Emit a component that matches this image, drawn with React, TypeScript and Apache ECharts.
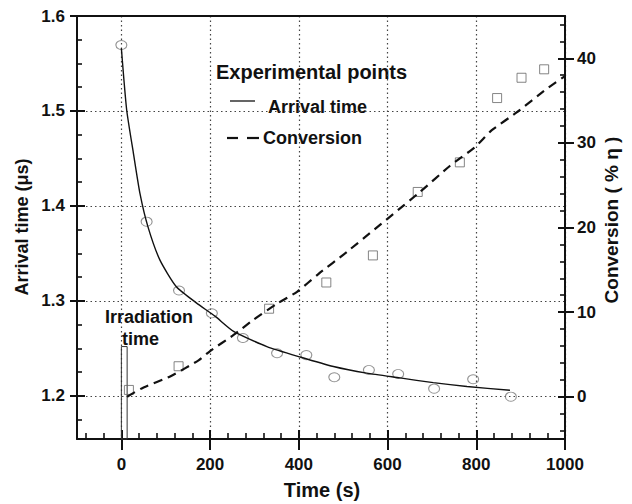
import { useEffect, useRef } from "react";
import * as echarts from "echarts";

// ---- data ----
const arrivalTime = [0, 57, 130, 204, 274, 351, 417, 480, 558, 624, 705, 793, 878];
const arrivalValue = [1.5695, 1.3835, 1.311, 1.287, 1.261, 1.245, 1.243, 1.2197, 1.2274, 1.2232, 1.2077, 1.2176, 1.1993];

const conversionTime = [17, 129, 333, 462, 567, 668, 763, 847, 902, 953];
const conversionValue = [0.8, 3.6, 10.4, 13.5, 16.7, 24.2, 27.7, 35.3, 37.7, 38.7];

const arrivalFitTime = [0, 12, 27, 42, 60, 87, 124, 169, 211, 253, 328, 403, 478, 553, 628, 703, 779, 876];
const arrivalFitValue = [1.566, 1.501, 1.456, 1.413, 1.378, 1.343, 1.315, 1.298, 1.284, 1.268, 1.252, 1.241, 1.231, 1.224, 1.219, 1.214, 1.21, 1.206];

const conversionFitTime = [13, 50, 110, 174, 200, 253, 298, 351, 396, 444, 508, 673, 741, 797, 835, 891, 959, 1000];
const conversionFitValue = [0, 1.1, 2.4, 4.3, 5.4, 7.3, 9.1, 11.0, 12.4, 14.5, 17.1, 24.2, 27.3, 29.5, 31.5, 33.6, 36.4, 37.9];

const irradiationSpan = [0, 13];
const irradiationTop = 1.252;

const timeRange = [-100, 1000];
const arrivalRange = [1.1547, 1.6];
const conversionRange = [-5, 45];

const timeMajorTicks = [0, 200, 400, 600, 800, 1000];
const arrivalMajorTicks = [1.2, 1.3, 1.4, 1.5, 1.6];
const conversionMajorTicks = [0, 10, 20, 30, 40];

const timeMinorTicks = [-80, -40, 40, 80, 120, 160, 240, 280, 320, 360, 440, 480, 520, 560, 640, 680, 720, 760, 840, 880, 920, 960];
const arrivalMinorTicks = [1.175, 1.225, 1.25, 1.275, 1.325, 1.35, 1.375, 1.425, 1.45, 1.475, 1.525, 1.55, 1.575];
const conversionMinorTicks = [-4, -2, 2, 4, 6, 8, 12, 14, 16, 18, 22, 24, 26, 28, 32, 34, 36, 38, 42, 44];

const FONT = '"Liberation Sans", Arial, Helvetica, sans-serif';
const INK = "#111";

const zip = (a: number[], b: number[]) => a.map((v, i) => [v, b[i]]);

export default function App() {
  const ref = useRef<HTMLDivElement>(null);

  useEffect(() => {
    const chart = echarts.init(ref.current!, null, { renderer: "svg" });
    const axisLineStyle = { color: INK, width: 2 };
    const tickStyle = { color: INK, width: 2 };
    const minorStyle = { color: INK, width: 1.6 };
    const gridStyle = { color: "#444", width: 1.2, type: [1.5, 3] as any };
    const labelStyle = {
      color: INK,
      fontSize: 17,
      fontWeight: "bold" as const,
      fontFamily: FONT,
      formatter: (v: number) => String(v),
    };

    const tickOnlyX = (values: number[], inside: boolean, length: number, style: any) => ({
      type: "value",
      position: "bottom",
      min: timeRange[0],
      max: timeRange[1],
      axisLine: { show: false, onZero: false },
      axisTick: { show: true, inside, length, lineStyle: style, customValues: values },
      axisLabel: { show: false },
      splitLine: { show: false },
    });
    const tickOnlyY = (pos: string, range: number[], values: number[], inside: boolean, length: number, style: any) => ({
      type: "value",
      position: pos,
      min: range[0],
      max: range[1],
      axisLine: { show: false, onZero: false },
      axisTick: { show: true, inside, length, lineStyle: style, customValues: values },
      axisLabel: { show: false },
      splitLine: { show: false },
    });

    const option: any = {
      animation: false,
      backgroundColor: "#fff",
      grid: { left: 77, right: 67, top: 16, bottom: 65, containLabel: false },
      xAxis: [
        {
          type: "value",
          position: "bottom",
          min: timeRange[0],
          max: timeRange[1],
          minInterval: 200,
          maxInterval: 200,
          axisLine: { show: true, onZero: false, lineStyle: axisLineStyle },
          axisTick: { show: true, inside: true, length: 9, lineStyle: tickStyle, customValues: timeMajorTicks },
          axisLabel: { ...labelStyle, margin: 17, customValues: timeMajorTicks },
          splitLine: { show: true, lineStyle: gridStyle },
        },
        tickOnlyX(timeMajorTicks, false, 11, tickStyle),
        tickOnlyX(timeMinorTicks, true, 6, minorStyle),
        {
          type: "value",
          position: "top",
          min: timeRange[0],
          max: timeRange[1],
          axisLine: { show: true, onZero: false, lineStyle: axisLineStyle },
          axisTick: { show: false },
          axisLabel: { show: false },
          splitLine: { show: false },
        },
      ],
      yAxis: [
        {
          type: "value",
          position: "left",
          min: arrivalRange[0],
          max: arrivalRange[1],
          minInterval: 0.1,
          maxInterval: 0.1,
          axisLine: { show: true, onZero: false, lineStyle: axisLineStyle },
          axisTick: { show: true, inside: true, length: 8, lineStyle: tickStyle, customValues: arrivalMajorTicks },
          axisLabel: { ...labelStyle, margin: 12, customValues: arrivalMajorTicks },
          splitLine: { show: true, lineStyle: gridStyle },
        },
        {
          type: "value",
          position: "right",
          min: conversionRange[0],
          max: conversionRange[1],
          minInterval: 10,
          maxInterval: 10,
          axisLine: { show: true, onZero: false, lineStyle: axisLineStyle },
          axisTick: { show: true, inside: true, length: 7, lineStyle: tickStyle, customValues: conversionMajorTicks },
          axisLabel: { ...labelStyle, margin: 12, customValues: conversionMajorTicks },
          splitLine: { show: false },
        },
        tickOnlyY("left", arrivalRange, arrivalMajorTicks, false, 7, tickStyle),
        tickOnlyY("left", arrivalRange, arrivalMinorTicks, true, 5, minorStyle),
        tickOnlyY("right", conversionRange, conversionMajorTicks, false, 9, tickStyle),
        tickOnlyY("right", conversionRange, conversionMinorTicks, true, 5, minorStyle),
      ],
      series: [
        {
          name: "Arrival time",
          type: "line",
          xAxisIndex: 0,
          yAxisIndex: 0,
          data: zip(arrivalFitTime, arrivalFitValue),
          showSymbol: false,
          smooth: 0.2,
          lineStyle: { color: INK, width: 1.4 },
          z: 4,
          markArea: {
            silent: true,
            itemStyle: { color: "rgba(0,0,0,0)", borderColor: "#333", borderWidth: 1 },
            data: [[
              { coord: [irradiationSpan[0], arrivalRange[0]] },
              { coord: [irradiationSpan[1], irradiationTop] },
            ]],
          },
        },
        {
          name: "Conversion",
          type: "line",
          xAxisIndex: 0,
          yAxisIndex: 1,
          data: zip(conversionFitTime, conversionFitValue),
          showSymbol: false,
          smooth: 0.2,
          lineStyle: { color: INK, width: 2.2, type: [9, 6] },
          z: 4,
        },
        {
          name: "Arrival points",
          type: "scatter",
          xAxisIndex: 0,
          yAxisIndex: 0,
          data: zip(arrivalTime, arrivalValue),
          symbol: "circle",
          symbolSize: [11, 9],
          itemStyle: { color: "rgba(0,0,0,0)", borderColor: "#777", borderWidth: 1 },
          z: 3,
        },
        {
          name: "Conversion points",
          type: "scatter",
          xAxisIndex: 0,
          yAxisIndex: 1,
          data: zip(conversionTime, conversionValue),
          symbol: "rect",
          symbolSize: 9,
          itemStyle: { color: "rgba(0,0,0,0)", borderColor: "#666", borderWidth: 1 },
          z: 3,
        },
      ],
      graphic: [
        { type: "text", x: 216, y: 72, style: { text: "Experimental points", font: `bold 20px ${FONT}`, fill: INK, align: "left", verticalAlign: "middle" } },
        { type: "line", shape: { x1: 230, y1: 101, x2: 255, y2: 101 }, style: { stroke: INK, lineWidth: 1.3 } },
        { type: "text", x: 268, y: 107, style: { text: "Arrival time", font: `bold 18px ${FONT}`, fill: INK, align: "left", verticalAlign: "middle" } },
        { type: "line", shape: { x1: 227, y1: 138, x2: 238, y2: 138 }, style: { stroke: INK, lineWidth: 2.2 } },
        { type: "line", shape: { x1: 247, y1: 138, x2: 259, y2: 138 }, style: { stroke: INK, lineWidth: 2.2 } },
        { type: "text", x: 263, y: 138, style: { text: "Conversion", font: `bold 18px ${FONT}`, fill: INK, align: "left", verticalAlign: "middle" } },
        { type: "text", x: 105, y: 317, style: { text: "Irradiation", font: `bold 18px ${FONT}`, fill: INK, align: "left", verticalAlign: "middle" } },
        { type: "text", x: 122, y: 339, style: { text: "time", font: `bold 18px ${FONT}`, fill: INK, align: "left", verticalAlign: "middle" } },
        { type: "text", x: 322, y: 490, style: { text: "Time (s)", font: `bold 20px ${FONT}`, fill: INK, align: "center", verticalAlign: "middle" } },
        { type: "text", x: 22, y: 227, rotation: Math.PI / 2, style: { text: "Arrival time (μs)", font: `bold 18px ${FONT}`, fill: INK, align: "center", verticalAlign: "middle" } },
        { type: "text", x: 611, y: 220, rotation: Math.PI / 2, style: { text: "Conversion ( % η )", font: `bold 19px ${FONT}`, fill: INK, align: "center", verticalAlign: "middle" } },
      ],
    };
    chart.setOption(option);
    return () => chart.dispose();
  }, []);

  return (
    <div
      ref={ref}
      style={{ position: "fixed", left: 0, top: 0, width: 632, height: 504, background: "#fff" }}
    />
  );
}
